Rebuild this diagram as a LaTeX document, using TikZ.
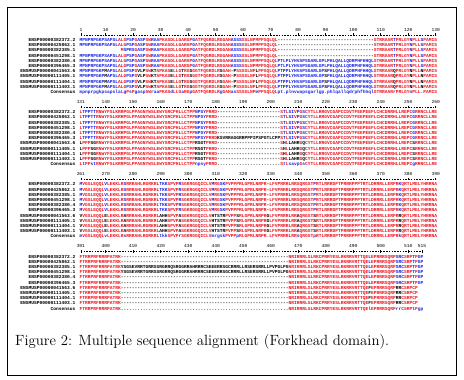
\documentclass[tikz,border=0pt]{standalone}
\usepackage{fontspec}
\usepackage{graphicx}
\newfontfamily\sqfont{Liberation Mono}
\definecolor{sred}{RGB}{238,20,30}
\definecolor{sblue}{RGB}{25,35,230}
\ExplSyntaxOn
\cs_new:Npn \seqrep #1#2 { \prg_replicate:nn {#1} {#2} }
\ExplSyntaxOff
\newcommand\xR[1]{\textcolor{sred}{#1}}
\newcommand\xB[1]{\textcolor{sblue}{#1}}
\newcommand\xK[1]{\textcolor{black}{#1}}
\newcommand\gap[1]{\xK{\seqrep{#1}{-\kern0pt}}}
\newcommand\dgap[1]{\xK{\seqrep{#1}{.\kern0pt}}}
% block 1
\newcommand\HNa{\xB{MPNPRPGKPSAPSL}\xR{ALG}\xB{PSP}\xR{G}\xB{ASP}\xR{SW}\xB{RAA}\xR{PKASDLLGARGP}\xB{G}\xR{ATFQGRDLRGGAH}\xB{ASSS}\xR{SSLNPMPPSQLQL}}
\newcommand\HNb{\xR{M}\xB{SPRS}\xR{G}\xB{ASP}\xR{SW}\xB{RAA}\xR{PKASDLLGARGP}\xB{G}\xR{ATFQGRDLRGGAH}\xB{ASSS}\xR{SSLNPMPPSQLQL}}
\newcommand\HCa{\xR{STRRAAR}\xB{T}\xR{PRLGY}\xB{N}\xR{PLL}\xB{S}\xR{PAMIS}}
\newcommand\HMa{\xB{PTLPLYHVAPSGARLGPLPHLQALLQDRPHFHHQL}}
\newcommand\MNa{\xB{MPNPRPGKP}\xK{M}\xB{APSL}\xR{ALG}\xB{PSP}\xR{G}\xK{VLP}\xR{SW}\xK{KT}\xR{APKAS}\xK{E}\xR{LLG}\xK{T}\xR{RG}\xK{S}\xR{GGTFQGRDLR}\xK{S}\xR{GAH}\xK{-P}\xR{SSSSLN}\xR{P}\xK{L}\xR{PPSQLQL}}
\newcommand\MMa{\xB{PT}\xK{F}\xB{PLYHVAPSGARLGP}\xK{S}\xB{PHLQALLQDRPHFHHQL}}
\newcommand\MCa{\xR{STRRAAR}\xK{Q}\xR{PRLGY}\xK{N}\xR{PLL}\xK{N}\xR{PAMIS}}
\newcommand\CNa{\xB{mpnprpgkpsapsla}\xR{L}\xB{g}\xR{P}\xB{s}\xR{P}\xB{gasp}\xR{SW}\xB{raa}\xR{PKAS}\xB{d}\xR{LLG}\xB{a}\xR{RG}\xB{p}\xR{GATFQGRDLR}\xB{g}\xR{GAH}\xB{as}\xR{SSSSLNP}\xB{m}\xR{PPSQLQL}\xB{pt.plnvwapsgarlgp.phlqallqdrphfhhql}\xR{STRRAAR}\xB{r}\xR{PRLGY}\xB{n}\xR{PLL}\xB{.}\xR{PAMIS}}
% block 2
\newcommand\HAb{\xR{L}\xB{TPPTT}\xR{RNWYFSLKRRPGLPPAGNYWSLEWYSRCPHLLCTPP}\xB{NPSY}\xR{PRRD}}
\newcommand\HBb{\xR{S}\xB{T}\xR{L}\xB{SI}\xR{V}\xB{P}\xR{G}\xB{S}\xR{CYTLLRRGVCGAPCCDVTFEEPEEFLCHCDRRHLLREPC}\xB{G}\xR{RRNCLLRE}}
\newcommand\MAb{\xK{L}\xR{PPP}\xK{SG}\xR{RNWYFSLKRRPGLPPAGNYWSLEWYSRCPHLLCTPP}\xK{RSGT}\xR{PRRD}}
\newcommand\MBb{\xR{S}\xK{H}\xR{L}\xK{LAHR}\xR{G}\xK{Q}\xR{CYTLLRRGVCGAPCCDVTFEEPEEFLCHCDRRHLLREPC}\xK{S}\xR{RRNCLLRE}}
\newcommand\CNb{\xR{L}\xB{t}\xR{PP}\xB{st}\xR{RNWYFSLKRRPGLPPAGNYWSLEWYSRCPHLLCTPP}\xB{npsy}\xR{PRRD}\dgap{23}\xR{S}\xB{t}\xR{L}\xB{savp}\xR{G}\xB{s}\xR{CYTLLRRGVCGAPCCDVTFEEPEEFLCHCDRRHLLREPC}\xB{g}\xR{RRNCLLRE}}
% block 3
\newcommand\HAc{\xB{M}\xR{VGSLEQQL}\xB{V}\xR{LEKKLR}\xB{S}\xR{RRRAHLRGRKRL}\xB{TKK}\xR{SPVP}\xB{R}\xR{SGKRGGQICLV}\xB{M}\xR{RG}\xB{SK}\xR{PVPPPRLGPRLNRPR}\xK{-}\xR{LFVPRRRLRRSQRGST}\xB{P}\xR{RTLRRRDPTPRRRPPPTRTLDRRRLLERPR}\xB{K}\xR{QRTLMELYHRRNA}}
\newcommand\MAc{\xK{V}\xR{VGSLEQQL}\xK{E}\xR{LEKKLR}\xK{A}\xR{RRRAHLRGRKRL}\xK{AHH}\xR{SPVP}\xK{A}\xR{SGKRGGQICLV}\xK{HTSTR}\xR{PVPP}\xK{S}\xR{RLGPRLNRPR}\xK{G}\xR{LFVPRRRLRR}\xK{A}\xR{QRGST}\xK{S}\xR{RTLRRRDPTPRRRPPPTRTLDRRRLLERPR}\xK{R}\xR{QRTLMELYHRRNA}}
\newcommand\CNc{\xB{m}\xR{VGSLEQQL}\xB{v}\xR{LEKKLR}\xB{s}\xR{RRRAHLRGRKRL}\xB{tkk}\xR{SPVP}\xB{r}\xR{SGKRGGQICLV}\xB{mrgsk}\xR{PVPP}\xB{p}\xR{RLGPRLNRPR}\xB{.}\xR{LFVPRRRLRR}\xB{s}\xR{QRGST}\xB{p}\xR{RTLRRRDPTPRRRPPPTRTLDRRRLLERPR}\xB{k}\xR{QRTLMELYHRRNA}}
% block 4
\newcommand\Nd{\xR{FTRRPRFRRRPATRK}}
\newcommand\HCd{\xR{NRIRRRLSLRKCPRRYESLRKRRVRTTQE}\xB{L}\xR{EPRRRSQRP}\xB{SRC}\xR{SRP}\xB{T}\xR{P}\xB{GP}}
\newcommand\MCd{\xR{NRIRRRLSLRKCPRRYESLRKRRVRTTQE}\xK{F}\xR{EPRRRSQRP}\xK{RR}\xR{CSRPCP}}
\newcommand\INd{\xK{YSGSEVRRTGRRSSRGRRQSRGGRRAHRRRCSEEERRSGCRRRLLRSERSRRLLPVPGLPG}}
\newcommand\CNd{\Nd\dgap{61}\xR{NRIRRRLSLRKCPRRYESLRKRRVRTTQE}\xB{l}\xR{EPRRRSQRP}\xB{rr}\xR{CSRP}\xB{t}\xR{P}\xB{gp}}
\newcommand\srow[5]{%
  \pgfmathsetmacro\yy{29.5+72.2*#1+10.4+5.2*#2+1.6}%
  \pgfmathsetmacro\xx{79.5+2.75*#4}%
  \node[labtxt] (lab#1x#2) at (75.6,\yy) {#3};%
  \node[seqtxt] (seq#1x#2) at (\xx,\yy) {#5};%
}
\tikzset{
  seqtxt/.style={inner sep=0pt, anchor=base west, font=\sqfont\bfseries\fontsize{4.583}{5}\selectfont},
  labtxt/.style={inner sep=0pt, anchor=base east, font=\sqfont\bfseries\fontsize{4.583}{5}\selectfont},
  numtxt/.style={inner sep=0pt, anchor=base, font=\sqfont\fontsize{4.583}{5}\selectfont},
  rulerline/.style={line width=0.35pt, dash pattern=on 1.6pt off 1.15pt},
  rulertick/.style={line width=0.45pt},
}
\begin{document}
\begin{tikzpicture}[x=1pt,y=-1pt]
\useasboundingbox (0,0) rectangle (464,380);
\fill[white] (0,0) rectangle (464,380);
\draw[line width=0.9pt] (7.3,7.3) rectangle (456.7,375.2);
% rulers
\foreach \b/\st/\last in {0/1/129,1/131/129,2/261/129,3/391/124}{
  \pgfmathsetmacro\ty{29.5+72.2*\b}
  \draw[rulerline] (80.875,{\ty+5.2}) -- ({80.875+2.75*\last},{\ty+5.2});
}
\foreach \b/\st in {0/1,1/131,2/261}{
  \pgfmathsetmacro\ty{29.5+72.2*\b}
  \foreach \k in {0,9,19,29,39,49,59,69,79,89,99,109,119,129}{
    \pgfmathtruncatemacro\lab{\st+\k}
    \node[numtxt] (num\b x\k) at ({80.875+2.75*\k},{\ty+1.5}) {\lab};
    \draw[rulertick] ({80.875+2.75*\k},{\ty+3.9}) -- ++(0,2.6);
  }
}
\foreach \k in {0,9,19,29,39,49,59,69,79,89,99,109,119,124}{
  \pgfmathsetmacro\ty{29.5+72.2*3}
  \pgfmathtruncatemacro\lab{391+\k}
  \node[numtxt] (num3x\k) at ({80.875+2.75*\k},{\ty+1.5}) {\lab};
  \draw[rulertick] ({80.875+2.75*\k},{\ty+3.9}) -- ++(0,2.6);
}
% block 1
\srow{0}{0}{ENSP00000382372.2}{0}{\HNa\gap{35}\HCa}
\srow{0}{1}{ENSP00000425862.1}{0}{\HNa\gap{35}\HCa}
\srow{0}{2}{ENSP00000382385.1}{15}{\HNb\gap{35}\HCa}
\srow{0}{3}{ENSP00000451298.1}{0}{\HNa\gap{35}\HCa}
\srow{0}{4}{ENSP00000382380.4}{0}{\HNa\HMa\HCa}
\srow{0}{5}{ENSP00000396465.3}{0}{\HNa\HMa\HCa}
\srow{0}{6}{ENSMUSP00000041563.6}{0}{\MNa\MMa\MCa}
\srow{0}{7}{ENSMUSP00000111405.1}{0}{\MNa\MMa\MCa}
\srow{0}{8}{ENSMUSP00000111404.1}{0}{\MNa\MMa\MCa}
\srow{0}{9}{ENSMUSP00000111403.1}{0}{\MNa\MMa\MCa}
\srow{0}{10}{Consensus}{0}{\CNa}
% block 2
\srow{1}{0}{ENSP00000382372.2}{0}{\HAb\gap{23}\HBb}
\srow{1}{1}{ENSP00000425862.1}{0}{\HAb\gap{23}\HBb}
\srow{1}{2}{ENSP00000382385.1}{0}{\HAb\gap{23}\HBb}
\srow{1}{3}{ENSP00000451298.1}{0}{\HAb\gap{23}\HBb}
\srow{1}{4}{ENSP00000382380.4}{0}{\HAb\gap{23}\HBb}
\srow{1}{5}{ENSP00000396465.3}{0}{\HAb\xK{KSVRRAGGRRPPPIPSPGTLCPP}\HBb}
\srow{1}{6}{ENSMUSP00000041563.6}{0}{\MAb\gap{23}\MBb}
\srow{1}{7}{ENSMUSP00000111405.1}{0}{\MAb\gap{23}\MBb}
\srow{1}{8}{ENSMUSP00000111404.1}{0}{\MAb\gap{23}\MBb}
\srow{1}{9}{ENSMUSP00000111403.1}{0}{\MAb\gap{23}\MBb}
\srow{1}{10}{Consensus}{0}{\CNb}
% block 3
\srow{2}{0}{ENSP00000382372.2}{0}{\HAc}
\srow{2}{1}{ENSP00000425862.1}{0}{\HAc}
\srow{2}{2}{ENSP00000382385.1}{0}{\HAc}
\srow{2}{3}{ENSP00000451298.1}{0}{\HAc}
\srow{2}{4}{ENSP00000382380.4}{0}{\HAc}
\srow{2}{5}{ENSP00000396465.3}{0}{\HAc}
\srow{2}{6}{ENSMUSP00000041563.6}{0}{\MAc}
\srow{2}{7}{ENSMUSP00000111405.1}{0}{\MAc}
\srow{2}{8}{ENSMUSP00000111404.1}{0}{\MAc}
\srow{2}{9}{ENSMUSP00000111403.1}{0}{\MAc}
\srow{2}{10}{Consensus}{0}{\CNc}
% block 4
\srow{3}{0}{ENSP00000382372.2}{0}{\Nd\gap{61}\HCd}
\srow{3}{1}{ENSP00000425862.1}{0}{\Nd\gap{61}\HCd}
\srow{3}{2}{ENSP00000382385.1}{0}{\Nd\INd\HCd}
\srow{3}{3}{ENSP00000451298.1}{0}{\Nd\INd\HCd}
\srow{3}{4}{ENSP00000382380.4}{0}{\Nd\gap{61}\HCd}
\srow{3}{5}{ENSP00000396465.3}{0}{\Nd\gap{61}\HCd}
\srow{3}{6}{ENSMUSP00000041563.6}{0}{\Nd\gap{61}\MCd}
\srow{3}{7}{ENSMUSP00000111405.1}{0}{\Nd\gap{61}\MCd}
\srow{3}{8}{ENSMUSP00000111404.1}{0}{\Nd\gap{61}\MCd}
\srow{3}{9}{ENSMUSP00000111403.1}{0}{\Nd\gap{61}\MCd}
\srow{3}{10}{Consensus}{0}{\CNd}
% caption
\node[inner sep=0pt, anchor=base west] (caption) at (15,345.5)
  {\resizebox{374pt}{!}{\fontsize{14}{16}\selectfont Figure 2: Multiple sequence alignment (Forkhead domain).}};
\end{tikzpicture}
\end{document}
